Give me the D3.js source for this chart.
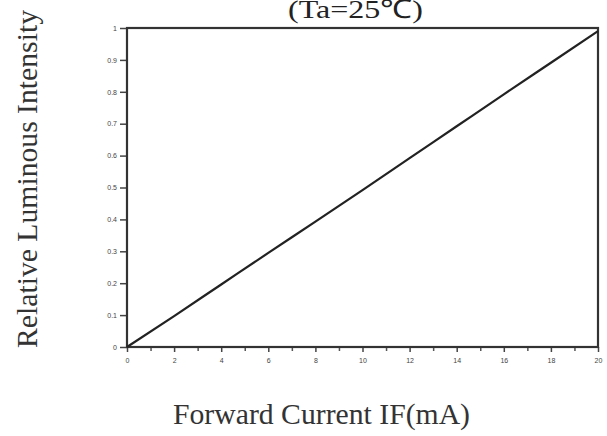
<!DOCTYPE html>
<html>
<head>
<meta charset="utf-8">
<script src="https://cdn.jsdelivr.net/npm/d3@7"></script>
<style>
  body { margin: 0; background: #fff; }
  svg { display: block; }
  .tick text { font-family: "Liberation Sans", Arial, sans-serif; fill: #444; }
</style>
</head>
<body>
<svg id="chart" width="607" height="436"></svg>
<script>
// forward current (mA) vs relative luminous intensity
var current = [0, 2, 4, 6, 8, 10, 12, 14, 16, 18, 20];
var intensity = [0, 0.097, 0.196, 0.295, 0.393, 0.492, 0.592, 0.692, 0.792, 0.891, 0.99];
var xTicks = [0, 2, 4, 6, 8, 10, 12, 14, 16, 18, 20];
var yTicks = [0, 0.1, 0.2, 0.3, 0.4, 0.5, 0.6, 0.7, 0.8, 0.9, 1];
var minorX = [1, 3, 5, 7, 9, 11, 13, 15, 17, 19];

var svg = d3.select('#chart');
// note: "top" is taken by window.top, so plot edges get their own names
var plotL = 127, plotR = 598, plotT = 28, plotB = 347;

var x = d3.scaleLinear().domain([0, 20]).range([plotL, plotR]);
var y = d3.scaleLinear().domain([0, 1]).range([plotB, plotT]);

var serif = '"Liberation Serif", "Times New Roman", serif';

// minor ticks on x
svg.append('g')
  .attr('transform', 'translate(0,' + plotB + ')')
  .call(d3.axisBottom(x).tickValues(minorX).tickSize(4).tickFormat(''))
  .call(function(g) { g.select('.domain').remove(); })
  .selectAll('line').attr('stroke', '#555').attr('stroke-width', 1.5);

var xAxis = svg.append('g')
  .attr('transform', 'translate(0,' + plotB + ')')
  .call(d3.axisBottom(x).tickValues(xTicks).tickSize(5).tickPadding(6).tickFormat(d3.format('d')));
xAxis.select('.domain').remove();
xAxis.selectAll('line').attr('stroke', '#444').attr('stroke-width', 1.5);
xAxis.selectAll('text').attr('font-size', 7);

var yAxis = svg.append('g')
  .attr('transform', 'translate(' + plotL + ',0)')
  .call(d3.axisLeft(y).tickValues(yTicks).tickSize(7).tickPadding(3)
    .tickFormat(function(d) { return d === 0 || d === 1 ? d3.format('d')(d) : d3.format('.1f')(d); }));
yAxis.select('.domain').remove();
yAxis.selectAll('line').attr('stroke', '#444').attr('stroke-width', 1.5);
yAxis.selectAll('text').attr('font-size', 7);

// frame
svg.append('rect')
  .attr('x', plotL).attr('y', plotT)
  .attr('width', plotR - plotL).attr('height', plotB - plotT)
  .attr('fill', 'none').attr('stroke', '#333').attr('stroke-width', 2.2);

// curve
var line = d3.line()
  .x(function(d, i) { return x(current[i]); })
  .y(function(d) { return y(d); })
  .curve(d3.curveMonotoneX);

svg.append('path')
  .datum(intensity)
  .attr('d', line)
  .attr('fill', 'none')
  .attr('stroke', '#222')
  .attr('stroke-width', 2.2);

// title (sits partly off the top edge, like the scan)
svg.append('text')
  .attr('x', 288).attr('y', 18)
  .attr('font-family', serif).attr('font-size', 26)
  .attr('fill', '#222')
  .attr('textLength', 135).attr('lengthAdjust', 'spacingAndGlyphs')
  .text('(Ta=25℃)');

// axis titles
svg.append('text')
  .attr('x', 173).attr('y', 424)
  .attr('font-family', serif).attr('font-size', 29)
  .attr('fill', '#333')
  .attr('textLength', 297).attr('lengthAdjust', 'spacingAndGlyphs')
  .text('Forward Current IF(mA)');

svg.append('text')
  .attr('transform', 'translate(37,348) rotate(-90)')
  .attr('font-family', serif).attr('font-size', 29)
  .attr('fill', '#333')
  .attr('textLength', 338).attr('lengthAdjust', 'spacingAndGlyphs')
  .text('Relative Luminous Intensity');
</script>
</body>
</html>
